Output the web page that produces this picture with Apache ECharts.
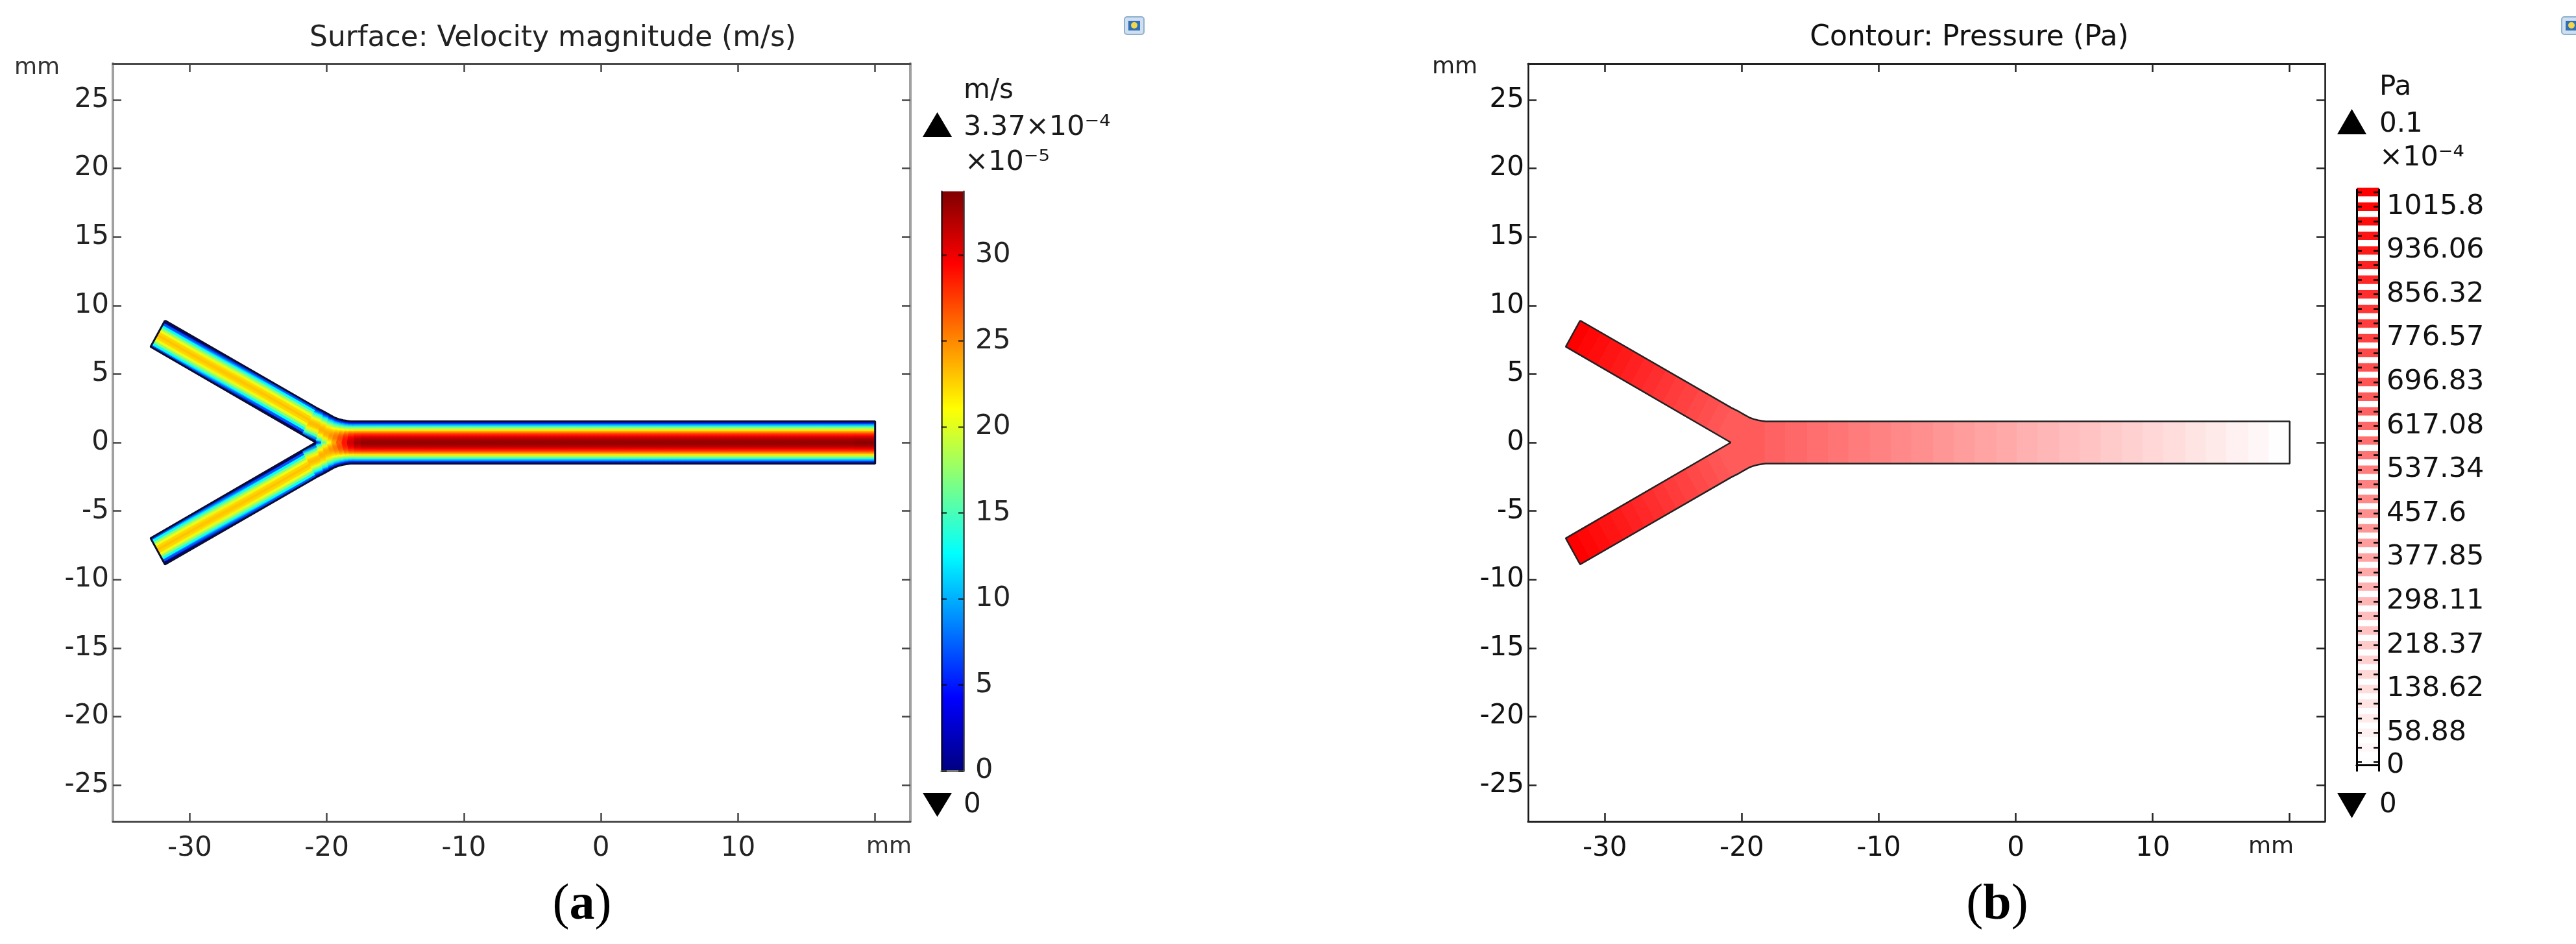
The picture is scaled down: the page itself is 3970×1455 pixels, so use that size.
<!DOCTYPE html>
<html lang="en">
<head>
    <meta charset="UTF-8">
    <title>Y channel: velocity and pressure</title>
    <style>
        html, body { margin: 0; padding: 0; background: #fff; }
        #main { width: 3970px; height: 1455px; }
    </style>
</head>
<body>
<div id="main"></div>
<script src="https://cdn.jsdelivr.net/npm/echarts@6/dist/echarts.min.js"></script>
<script type="text/javascript">
    // axis ticks, mm
    var xTicks = [-30, -20, -10, 0, 10, 20];
    var xTickLabels = [-30, -20, -10, 0, 10];
    var yTicks = [-25, -20, -15, -10, -5, 0, 5, 10, 15, 20, 25];

    // colour legends
    var velocityTicks = [0, 5, 10, 15, 20, 25, 30];
    var velocityMax = 33.7;
    var jetColors = ['#000080', '#0000ff', '#0080ff', '#00ffff', '#80ff80', '#ffff00', '#ff8000', '#ff0000', '#800000'];
    var pressureLabels = [1015.8, 936.06, 856.32, 776.57, 696.83, 617.08, 537.34, 457.6, 377.85, 298.11, 218.37, 138.62, 58.88, 0];
    var pressureLevels = [1042.38, 1015.8, 989.22, 962.64, 936.06, 909.48, 882.9, 856.32, 829.74, 803.15,
        776.57, 749.99, 723.41, 696.83, 670.25, 643.66, 617.08, 590.5, 563.92, 537.34,
        510.76, 484.18, 457.6, 431.02, 404.44, 377.85, 351.27, 324.69, 298.11, 271.53,
        244.95, 218.37, 191.79, 165.2, 138.62, 112.04, 85.46, 58.88, 32.3, 5.72];

    // upper half of the channel wall, mm (the lower half is its mirror)
    var wallRail = [[-31.8, 8.9], [-20.75, 2.53], [-20.2, 2.25], [-19.8, 2.02], [-19.4, 1.8], [-19.1, 1.7], [-18.8, 1.62],
        [-18.5, 1.57], [-18.27, 1.54], [-18, 1.54], [-17.5, 1.54], [18.5, 1.54], [20, 1.54]];
    var innerRail = [[-32.85, 6.99], [-21.8, 0.58], [-20.8, 0], [-20.4, 0], [-20, 0], [-19.65, 0], [-19.3, 0],
        [-18.9, 0], [-18.5, 0], [-18, 0], [-17.5, 0], [18.5, 0], [20, 0]];

    // velocity (x10^-5 m/s) across the half channel, inner wall or centre line -> outer wall
    var branchProfile = [0, 7, 12.8, 17.3, 20.5, 22.5, 23.1, 22.5, 20.5, 17.3, 12.8, 7, 0];
    var tipProfile = [0, 10, 16, 20, 22.5, 23.6, 23.6, 22.8, 20.5, 17, 12.5, 6.8, 0];
    var mergeProfile1 = [12, 17, 20.5, 22.5, 23.6, 23.8, 23.2, 22, 19.5, 16, 12, 6.4, 0];
    var mergeProfile2 = [19, 21, 23, 24, 24, 23.5, 22.5, 21, 18, 15, 11, 6, 0];
    var mergeProfile3 = [22.5, 23.5, 24.6, 25, 24.8, 24, 22.8, 21, 18, 14.8, 10.8, 5.8, 0];
    var mergeProfile4 = [25, 25.5, 26, 26, 25.5, 24.5, 23, 21, 18, 14.5, 10.5, 5.5, 0];
    var mergeProfile5 = [27.8, 27.8, 27.8, 27.5, 26.8, 25.5, 23.8, 21.2, 18.2, 14.5, 10.2, 5.4, 0];
    var mergeProfile6 = [30, 30, 29.5, 29, 28, 26.5, 24.5, 21.5, 18.3, 14.5, 10, 5.4, 0];
    var mergeProfile7 = [32, 31.8, 31, 30, 28.7, 27, 24.7, 21.7, 18.3, 14.5, 10.1, 5.4, 0];
    var channelProfile = [33, 32.8, 32.1, 31, 29.3, 27.3, 24.8, 21.9, 18.3, 14.5, 10.2, 5.4, 0];
    var outletProfile = [33.6, 33.3, 32.5, 31.2, 29.4, 27.3, 24.8, 21.9, 18.3, 14.5, 10.2, 5.4, 0];
    var velocityRows = [branchProfile, branchProfile, tipProfile, mergeProfile1, mergeProfile2, mergeProfile3, mergeProfile4,
        mergeProfile5, mergeProfile6, mergeProfile7, channelProfile, channelProfile, outletProfile];

    // pressure contour bands: edges along the branch (fraction of its length) and along the outlet channel (mm)
    var branchBandEdges = [0, 0.07, 0.14, 0.21, 0.29, 0.36, 0.43, 0.5, 0.57, 0.64, 0.71, 0.79, 0.86, 0.93, 1];
    var channelBandEdges = [-18.3, -16.8, -15.2, -13.7, -12.2, -10.6, -9.1, -7.6, -6, -4.5, -3, -1.4, 0.1, 1.6,
        3.2, 4.7, 6.2, 7.8, 9.3, 10.8, 12.4, 13.9, 15.4, 17, 18.5, 20];

    var textFont = '"DejaVu Sans"';
    var stripeHalf = 7.7;

    function jet(v) {
        return echarts.color.lerp(v / velocityMax, jetColors);
    }
    function pressureColor(v) {
        return echarts.color.lerp(v / pressureLevels[0], ['#ffffff', '#ff0000']);
    }
    function mirror(p) {
        return [p[0], -p[1]];
    }
    function along(a, b, t) {
        return [a[0] + (b[0] - a[0]) * t, a[1] + (b[1] - a[1]) * t];
    }

    // closed wall outline through both branches and the outlet
    var outline = wallRail.concat(wallRail.slice().reverse().map(mirror));
    outline.push(mirror(innerRail[0]), innerRail[2], innerRail[0], wallRail[0]);

    // velocity mesh, one quad per neighbouring pair of rows and columns
    var velocityQuads = [];
    velocityRows.forEach(function (row, i) {
        if (i === velocityRows.length - 1) return;
        var next = velocityRows[i + 1];
        var n = row.length - 1;
        for (var j = 0; j < n; j++) {
            var p1 = along(innerRail[i], wallRail[i], j / n);
            var p2 = along(innerRail[i], wallRail[i], (j + 1) / n);
            var p3 = along(innerRail[i + 1], wallRail[i + 1], (j + 1) / n);
            var p4 = along(innerRail[i + 1], wallRail[i + 1], j / n);
            var from = (row[j] + next[j]) / 2, to = (row[j + 1] + next[j + 1]) / 2;
            velocityQuads.push({points: [p1, p2, p3, p4], from: from, to: to});
            velocityQuads.push({points: [p1, p2, p3, p4].map(mirror), from: from, to: to});
        }
    });

    // pressure bands
    var pressureBands = [];
    var branchEndInner = innerRail[1], branchEndWall = wallRail[1], filletEnd = wallRail[8];
    branchBandEdges.forEach(function (e, i) {
        if (i === branchBandEdges.length - 1) return;
        var f = branchBandEdges[i + 1];
        var poly = [along(innerRail[0], branchEndInner, e), along(wallRail[0], branchEndWall, e),
            along(wallRail[0], branchEndWall, f), along(innerRail[0], branchEndInner, f)];
        pressureBands.push({points: poly, value: pressureLevels[i]});
        pressureBands.push({points: poly.map(mirror), value: pressureLevels[i]});
    });
    // junction piece, between the branch bands and the first channel band
    var junction = [branchEndInner, branchEndWall].concat(wallRail.slice(2, 9), [mirror(filletEnd)],
        wallRail.slice(1, 8).reverse().map(mirror), [mirror(branchEndInner), innerRail[2]]);
    pressureBands.push({points: junction, value: pressureLevels[14]});
    channelBandEdges.forEach(function (e, i) {
        if (i === channelBandEdges.length - 1) return;
        var f = channelBandEdges[i + 1], h = filletEnd[1];
        pressureBands.push({points: [[e, -h], [e, h], [f, h], [f, -h]], value: pressureLevels[15 + i]});
    });

    function polygonSeries(items, fillFor, xi, yi) {
        return {
            type: 'custom',
            xAxisIndex: xi,
            yAxisIndex: yi,
            coordinateSystem: 'cartesian2d',
            clip: false,
            silent: true,
            z: 2,
            data: items.map(function (d, i) { return [i]; }),
            renderItem: function (params, api) {
                var item = items[params.dataIndex];
                var pts = item.points.map(function (p) { return api.coord(p); });
                var c = fillFor(item, pts);
                return {
                    type: 'polygon',
                    shape: {points: pts},
                    style: {fill: c, stroke: c, lineWidth: 1}
                };
            }
        };
    }

    // colour runs across the stream: from one column edge of the quad to the other
    function velocityFill(item, pts) {
        var a = along(pts[0], pts[3], 0.5), b = along(pts[1], pts[2], 0.5);
        return new echarts.graphic.LinearGradient(a[0], a[1], b[0], b[1], [
            {offset: 0, color: jet(item.from)},
            {offset: 1, color: jet(item.to)}
        ], true);
    }
    function pressureFill(item) {
        return pressureColor(item.value);
    }

    function outlineSeries(xi, yi, color, width) {
        return {
            type: 'line',
            xAxisIndex: xi,
            yAxisIndex: yi,
            data: outline,
            showSymbol: false,
            symbol: 'none',
            silent: true,
            z: 3,
            lineStyle: {color: color, width: width}
        };
    }

    // plot frame: a pair of axes for one direction, ticks pointing inwards
    function plotAxis(grid, pos, range, ticks, labels, line, labelMargin, labelColor) {
        return {
            type: 'value',
            gridIndex: grid,
            position: pos,
            min: range[0],
            max: range[1],
            z: 5,
            splitLine: {show: false},
            axisLine: {show: true, onZero: false, lineStyle: line},
            axisTick: {show: true, inside: true, length: 13, customValues: ticks, lineStyle: {color: line.tickColor, width: 2.5}},
            axisLabel: {
                show: !!labels,
                customValues: labels || undefined,
                margin: labelMargin,
                fontFamily: textFont,
                fontSize: 42,
                color: labelColor
            }
        };
    }

    var xRange = [-35.6, 22.57], yRange = [-27.65, 27.65];
    var softH = {color: '#4a4a4a', width: 3, tickColor: '#444'};
    var softV = {color: '#a0a0a0', width: 4, tickColor: '#444'};
    var hardH = {color: '#222', width: 3, tickColor: '#222'};
    var hardV = {color: '#111', width: 2.5, tickColor: '#222'};

    function legendX(grid, pos, isCategory, line) {
        return {
            type: isCategory ? 'category' : 'value',
            gridIndex: grid,
            position: pos,
            data: isCategory ? ['velocity'] : undefined,
            min: isCategory ? undefined : 0,
            max: isCategory ? undefined : 1,
            z: 5,
            splitLine: {show: false},
            axisTick: {show: false},
            axisLabel: {show: false},
            axisLine: {show: true, lineStyle: line}
        };
    }
    function legendY(grid, pos, range, ticks, labels, line, tickStyle, margin, labelColor) {
        return {
            type: 'value',
            gridIndex: grid,
            position: pos,
            min: range[0],
            max: range[1],
            z: 5,
            splitLine: {show: false},
            axisLine: {show: true, onZero: false, lineStyle: line},
            axisTick: {show: true, inside: true, length: 8, customValues: ticks, lineStyle: tickStyle},
            axisLabel: {
                show: !!labels,
                customValues: labels || undefined,
                margin: margin,
                fontFamily: textFont,
                fontSize: 43,
                color: labelColor,
                formatter: function (v) { return String(v); }
            }
        };
    }

    function text(x, y, str, size, align, color) {
        return {
            type: 'text',
            x: x,
            y: y,
            silent: true,
            style: {
                text: str,
                fontFamily: textFont,
                fontSize: size,
                textAlign: align || 'left',
                textVerticalAlign: 'middle',
                fill: color || '#1a1a1a'
            }
        };
    }
    function triangle(x1, x2, yBase, yTip) {
        return {
            type: 'polygon',
            silent: true,
            shape: {points: [[x1, yBase], [x2, yBase], [(x1 + x2) / 2, yTip]]},
            style: {fill: '#000'}
        };
    }
    function caption(x, letter) {
        return {
            type: 'text',
            x: x,
            y: 1396,
            silent: true,
            style: {
                text: '{p|(}{b|' + letter + '}{p|)}',
                textAlign: 'center',
                textVerticalAlign: 'middle',
                rich: {
                    p: {fontFamily: '"Liberation Serif"', fontSize: 78, fill: '#000'},
                    b: {fontFamily: '"Liberation Serif"', fontWeight: 'bold', fontSize: 78, fill: '#000'}
                }
            }
        };
    }
    function icon(x) {
        return {
            type: 'group',
            x: x,
            y: 26,
            silent: true,
            children: [
                {type: 'rect', shape: {x: 0, y: 0, width: 30, height: 27, r: 4}, style: {fill: '#cfdff0', stroke: '#8fb0d0', lineWidth: 2}},
                {type: 'rect', shape: {x: 6, y: 6, width: 18, height: 15}, style: {fill: '#2f6fb5'}},
                {type: 'circle', shape: {cx: 15, cy: 13, r: 5}, style: {fill: '#f2d64b'}}
            ]
        };
    }

    var chart = echarts.init(document.getElementById('main'));
    var blackTick = {color: '#000', width: 2.5};
    var softTick = {color: 'rgba(0,0,0,0.7)', width: 2.5};
    var softSide = {color: 'rgba(0,0,0,0.6)', width: 3};
    var softEnd = {color: '#777', width: 3};
    var blackLine = {color: '#000', width: 3};
    var pressureRange = [-10, 1047];

    var jetStops = jetColors.map(function (c, i) {
        return {offset: 1 - i / (jetColors.length - 1), color: c};
    }).reverse();

    var stripes = pressureLevels.map(function (v) { return [v]; });

    var option = {
        animation: false,
        backgroundColor: '#fff',
        grid: [
            {left: 174, top: 98, width: 1229, height: 1168},
            {left: 1451, top: 295, width: 34, height: 893},
            {left: 2355, top: 98, width: 1228, height: 1168},
            {left: 3632, top: 292, width: 34, height: 896}
        ],
        xAxis: [
            plotAxis(0, 'bottom', xRange, xTicks, xTickLabels, softH, 21, '#222'),
            plotAxis(0, 'top', xRange, xTicks, null, softH),
            legendX(1, 'bottom', true, softEnd),
            legendX(1, 'top', true, softEnd),
            plotAxis(2, 'bottom', xRange, xTicks, xTickLabels, hardH, 21, '#111'),
            plotAxis(2, 'top', xRange, xTicks, null, hardH),
            legendX(3, 'bottom', false, blackLine),
            legendX(3, 'top', false, blackLine)
        ],
        yAxis: [
            plotAxis(0, 'left', yRange, yTicks, yTicks, softV, 6, '#222'),
            plotAxis(0, 'right', yRange, yTicks, null, softV),
            legendY(1, 'left', [0, velocityMax], velocityTicks, null, softSide, softTick),
            legendY(1, 'right', [0, velocityMax], velocityTicks, velocityTicks, softSide, softTick, 18, '#222'),
            plotAxis(2, 'left', yRange, yTicks, yTicks, hardV, 6, '#111'),
            plotAxis(2, 'right', yRange, yTicks, null, hardV),
            legendY(3, 'left', pressureRange, pressureLevels.concat([0]), null, blackLine, blackTick),
            legendY(3, 'right', pressureRange, pressureLevels.concat([0]), pressureLabels, blackLine, blackTick, 12, '#111')
        ],
        series: [
            polygonSeries(velocityQuads, velocityFill, 0, 0),
            outlineSeries(0, 0, '#0c0c30', 3),
            {
                type: 'bar',
                xAxisIndex: 2,
                yAxisIndex: 2,
                barWidth: '100%',
                silent: true,
                data: [velocityMax],
                itemStyle: {color: new echarts.graphic.LinearGradient(0, 0, 0, 1, jetStops)}
            },
            polygonSeries(pressureBands, pressureFill, 4, 4),
            outlineSeries(4, 4, '#222', 2.5),
            {
                type: 'custom',
                xAxisIndex: 6,
                yAxisIndex: 6,
                silent: true,
                z: 2,
                data: stripes,
                renderItem: function (params, api) {
                    var v = api.value(0);
                    var a = api.coord([0, v + stripeHalf]);
                    var b = api.coord([1, Math.max(v - stripeHalf, pressureRange[0])]);
                    return {
                        type: 'rect',
                        shape: {x: a[0], y: a[1], width: b[0] - a[0], height: b[1] - a[1]},
                        style: {fill: pressureColor(v)}
                    };
                }
            }
        ],
        graphic: {
            elements: [
                text(852, 60, 'Surface: Velocity magnitude (m/s)', 44, 'center', '#222'),
                text(3035, 59, 'Contour: Pressure (Pa)', 44, 'center', '#111'),
                text(22, 105, 'mm', 36, 'left', '#333'),
                text(1335, 1306, 'mm', 36, 'left', '#333'),
                text(2207, 104, 'mm', 36, 'left', '#222'),
                text(3465, 1306, 'mm', 36, 'left', '#222'),
                text(1485, 140, 'm/s', 42),
                text(1485, 197, '3.37×10⁻⁴', 43),
                text(1487, 251, '×10⁻⁵', 43),
                text(1485, 1241, '0', 42),
                text(3667, 135, 'Pa', 42, 'left', '#111'),
                text(3667, 192, '0.1', 42, 'left', '#111'),
                text(3667, 244, '×10⁻⁴', 43, 'left', '#111'),
                text(3667, 1241, '0', 42, 'left', '#111'),
                triangle(1422, 1467, 211, 173),
                triangle(1422, 1467, 1222, 1259),
                triangle(3602, 3647, 207, 168),
                triangle(3602, 3647, 1222, 1261),
                caption(897, 'a'),
                caption(3078, 'b'),
                icon(1733),
                icon(3948)
            ]
        }
    };
    chart.setOption(option);
</script>
</body>
</html>
